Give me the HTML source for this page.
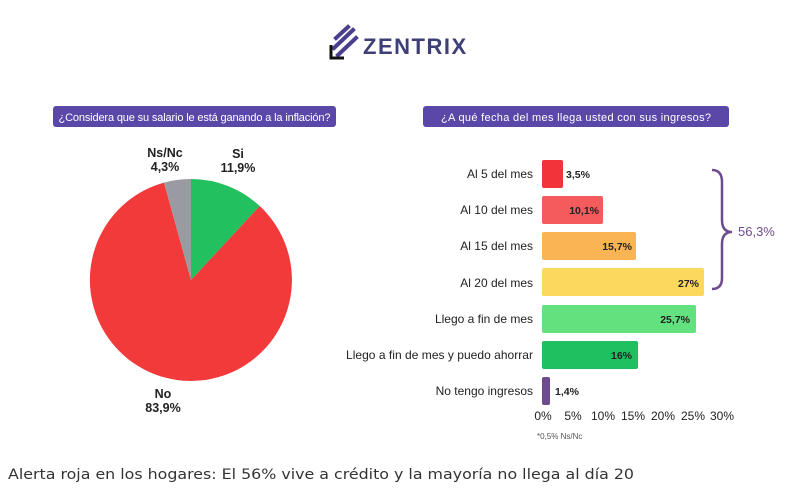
<!DOCTYPE html>
<html><head><meta charset="utf-8"><style>
body{margin:0;background:#fff;width:792px;height:493px;overflow:hidden;font-family:"Liberation Sans",sans-serif;}
</style></head><body>
<svg width="792" height="493" xmlns="http://www.w3.org/2000/svg" font-family="Liberation Sans, sans-serif">
<!-- logo -->
<g stroke="#4a3f8f" stroke-width="4" fill="none" stroke-linecap="square">
<line x1="336" y1="38" x2="348" y2="27"/>
<line x1="334" y1="48" x2="353" y2="30"/>
<line x1="338" y1="55" x2="356" y2="38"/>
</g>
<path d="M331,45 L331,58 L344,58" stroke="#111" stroke-width="3" fill="none"/>
<text x="363" y="54" font-size="22" font-weight="bold" fill="#3f3f78" letter-spacing="1.5">ZENTRIX</text>
<!-- headers -->
<rect x="53" y="106" width="283" height="21" rx="3" fill="#5b47a8"/>
<text x="194.5" y="121" font-size="11" fill="#fff" text-anchor="middle" textLength="272">¿Considera que su salario le está ganando a la inflación?</text>
<rect x="423" y="106" width="306" height="21" rx="3" fill="#5b47a8"/>
<text x="576" y="121" font-size="11" fill="#fff" text-anchor="middle" textLength="270">¿A qué fecha del mes llega usted con sus ingresos?</text>
<!-- pie -->
<path d="M191,280 L191,179 A101,101 0 0 1 259.7,206 Z" fill="#22c05e"/>
<path d="M191,280 L259.7,206 A101,101 0 1 1 164,182.6 Z" fill="#f23a3a"/>
<path d="M191,280 L164,182.6 A101,101 0 0 1 191,179 Z" fill="#9a9aa2"/>
<g font-size="12.5" font-weight="bold" fill="#222" text-anchor="middle">
<text x="165" y="157">Ns/Nc</text><text x="165" y="171">4,3%</text>
<text x="238" y="158">Si</text><text x="238" y="172">11,9%</text>
<text x="163" y="398">No</text><text x="163" y="412">83,9%</text>
</g>
<!-- bars -->
<g font-size="12" fill="#222" text-anchor="end">
<text x="533" y="178">Al 5 del mes</text>
<text x="533" y="214">Al 10 del mes</text>
<text x="533" y="250">Al 15 del mes</text>
<text x="533" y="287">Al 20 del mes</text>
<text x="533" y="323">Llego a fin de mes</text>
<text x="533" y="359" textLength="187">Llego a fin de mes y puedo ahorrar</text>
<text x="533" y="395">No tengo ingresos</text>
</g>
<rect x="542" y="160" width="21" height="28" rx="2" fill="#f2333a"/>
<rect x="542" y="196" width="61" height="28" rx="2" fill="#f55a5c"/>
<rect x="542" y="232" width="94" height="28" rx="2" fill="#fbb454"/>
<rect x="542" y="268" width="162" height="28" rx="2" fill="#fcd95c"/>
<rect x="542" y="305" width="154" height="28" rx="2" fill="#62e17e"/>
<rect x="542" y="341" width="96" height="28" rx="2" fill="#1fc060"/>
<rect x="542" y="377" width="8" height="28" rx="2" fill="#6e4a8e"/>
<g font-size="10.5" font-weight="bold" fill="#222">
<text x="566" y="178">3,5%</text>
<text x="599" y="214" text-anchor="end">10,1%</text>
<text x="632" y="250" text-anchor="end">15,7%</text>
<text x="699" y="287" text-anchor="end">27%</text>
<text x="690" y="323" text-anchor="end">25,7%</text>
<text x="632" y="359" text-anchor="end">16%</text>
<text x="555" y="395">1,4%</text>
</g>
<g font-size="12" fill="#222" text-anchor="middle">
<text x="543" y="420">0%</text><text x="573" y="420">5%</text><text x="603" y="420">10%</text>
<text x="633" y="420">15%</text><text x="663" y="420">20%</text><text x="693" y="420">25%</text><text x="722" y="420">30%</text>
</g>
<text x="537" y="439" font-size="8" fill="#555">*0,5% Ns/Nc</text>
<!-- brace -->
<path d="M712,170 Q722,170 722,182 L722,220 Q722,232 732,232 Q722,232 722,244 L722,278 Q722,289 712,289" stroke="#6e4a8e" stroke-width="2.5" fill="none"/>
<text x="738" y="236" font-size="13" fill="#6e4a8e">56,3%</text>
<text x="8" y="479" font-size="14" fill="#333" font-family="DejaVu Sans, sans-serif" textLength="626" lengthAdjust="spacingAndGlyphs">Alerta roja en los hogares: El 56% vive a crédito y la mayoría no llega al día 20</text>
</svg>
</body></html>
